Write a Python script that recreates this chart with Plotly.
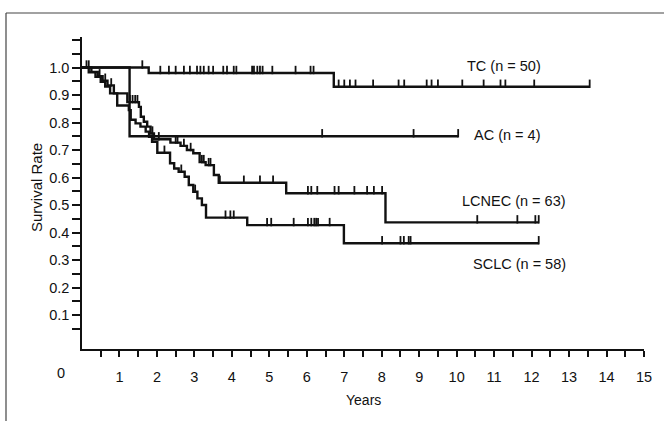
import bisect
import plotly.graph_objects as go

# ---------------- data ----------------
groups = ["TC (n = 50)", "AC (n = 4)", "LCNEC (n = 63)", "SCLC (n = 58)"]

tc_times = [1.78, 6.72]
tc_surv = [0.98, 0.93]
tc_end = 13.55
tc_cens = [1.61, 2.09, 2.32, 2.50, 2.72, 2.88, 3.07, 3.16, 3.25, 3.38, 3.50, 3.77, 3.87,
           4.05, 4.12, 4.54, 4.59, 4.68, 4.75, 4.82, 5.08, 5.70, 6.10, 6.18,
           6.85, 7.00, 7.15, 7.30, 7.77, 8.45, 8.60, 9.20, 9.33, 9.50, 10.15, 10.72,
           11.17, 11.30, 12.07, 13.55]

ac_times = [1.27]
ac_surv = [0.75]
ac_end = 10.04
ac_cens = [6.41, 8.85, 10.04]

lcnec_times = [0.25, 0.42, 0.55, 0.68, 0.85, 1.21, 1.52, 1.57, 1.65, 1.74, 1.83, 1.92,
               2.36, 2.63, 2.80, 2.97, 3.14, 3.30, 3.52, 3.65, 5.45, 8.10]
lcnec_surv = [0.984, 0.968, 0.952, 0.935, 0.906, 0.874, 0.857, 0.821, 0.803, 0.785, 0.760, 0.739,
              0.727, 0.715, 0.700, 0.688, 0.656, 0.645, 0.609, 0.581, 0.543, 0.437]
lcnec_end = 12.19
lcnec_cens = [0.12, 0.18, 0.47, 0.62, 0.78, 1.28, 1.35, 1.42, 1.48, 1.88, 2.05, 2.50, 2.55,
              2.72, 2.90, 3.20, 3.25, 3.38, 3.43, 3.68, 4.32, 4.75, 5.10, 6.03, 6.12, 6.28,
              6.74, 6.85, 7.27, 7.61, 7.79, 8.01, 10.55, 11.62, 12.10, 12.19]

sclc_times = [0.18, 0.36, 0.50, 0.62, 0.75, 0.94, 1.25, 1.30, 1.43, 1.56, 1.70, 1.79, 1.87,
              2.01, 2.35, 2.46, 2.58, 2.74, 2.85, 2.97, 3.08, 3.20, 3.31, 4.41, 6.99]
sclc_surv = [0.983, 0.966, 0.948, 0.931, 0.906, 0.862, 0.845, 0.810, 0.797, 0.785, 0.767, 0.748, 0.730,
             0.690, 0.652, 0.633, 0.621, 0.603, 0.573, 0.548, 0.524, 0.500, 0.454, 0.427, 0.361]
sclc_end = 12.19
sclc_cens = [2.20, 2.65, 3.02, 3.83, 3.96, 4.05, 4.94, 5.05, 5.65, 6.03, 6.12, 6.20, 6.25,
             6.30, 6.61, 8.01, 8.50, 8.59, 8.72, 8.77, 12.19]

x_tick_labels = [str(i) for i in range(1, 16)]
y_tick_labels = ["0.1", "0.2", "0.3", "0.4", "0.5", "0.6", "0.7", "0.8", "0.9", "1.0"]

# ---------------- layout geometry ----------------
W, H = 664, 421
ML, MR, MT, MB = 82, 20, 37, 72
YR = [-0.0236, 1.111]
FONT = "Liberation Sans, Arial, Helvetica, sans-serif"
FS = 14.5
INK = "#111111"


def surv_at(times, surv, t):
    i = bisect.bisect_right(times, t)
    return 1.0 if i == 0 else surv[i - 1]


fig = go.Figure()
series = [
    (tc_times, tc_surv, tc_end, tc_cens),
    (ac_times, ac_surv, ac_end, ac_cens),
    (lcnec_times, lcnec_surv, lcnec_end, lcnec_cens),
    (sclc_times, sclc_surv, sclc_end, sclc_cens),
]
ppu = (H - MT - MB) / (YR[1] - YR[0])
off = 3.0 / ppu
for name, (tt, ss, te, cc) in zip(groups, series):
    fig.add_trace(go.Scatter(
        x=[0] + tt + [te], y=[1.0] + ss + [ss[-1]],
        mode="lines", line=dict(color=INK, width=2.4, shape="hv"),
        name=name, showlegend=False, hoverinfo="skip"))
    fig.add_trace(go.Scatter(
        x=cc, y=[surv_at(tt, ss, c) + off for c in cc],
        mode="markers",
        marker=dict(symbol="line-ns", size=6, line=dict(color=INK, width=1.8)),
        showlegend=False, hoverinfo="skip"))

# curve labels
label_pos = [(10.21, 1.005), (10.42, 0.755), (10.10, 0.515), (10.37, 0.285)]
for name, (lx, ly) in zip(groups, label_pos):
    fig.add_annotation(x=lx, y=ly, xref="x", yref="y", text=name, showarrow=False,
                       xanchor="left", yanchor="middle",
                       font=dict(family=FONT, size=FS, color=INK))

# origin label "0"
fig.add_annotation(x=0, y=0, xref="x", yref="paper", text="0", showarrow=False,
                   xshift=-21, yshift=-24, xanchor="center", yanchor="middle",
                   font=dict(family=FONT, size=FS, color=INK))
# axis titles
fig.add_annotation(x=0.5, y=0, xref="paper", yref="paper", text="Years", showarrow=False,
                   yshift=-51, xanchor="center", yanchor="middle",
                   font=dict(family=FONT, size=14, color=INK))
fig.add_annotation(x=0, y=0.516, xref="paper", yref="paper", text="Survival Rate",
                   showarrow=False, xshift=-46, textangle=-90,
                   xanchor="center", yanchor="middle",
                   font=dict(family=FONT, size=15, color=INK))

# scan frame (top and left edges)
pw, ph = W - ML - MR, H - MT - MB


def px2paper_x(px):
    return (px - ML) / pw


def py2paper_y(py):
    return (H - MB - py) / ph


fx, fy = 6, 13
fig.add_shape(type="line", xref="paper", yref="paper",
              x0=px2paper_x(fx), x1=px2paper_x(fx), y0=py2paper_y(fy), y1=py2paper_y(H + 5),
              line=dict(color="#444444", width=1.2))
fig.add_shape(type="line", xref="paper", yref="paper",
              x0=px2paper_x(fx), x1=px2paper_x(W + 5), y0=py2paper_y(fy), y1=py2paper_y(fy),
              line=dict(color="#444444", width=1.2))

fig.update_layout(
    width=W, height=H,
    margin=dict(l=ML, r=MR, t=MT, b=MB, pad=0),
    paper_bgcolor="white", plot_bgcolor="white",
    font=dict(family=FONT, size=FS, color=INK),
    showlegend=False,
)
fig.update_xaxes(
    range=[0, 15], showgrid=False, zeroline=False,
    showline=True, linecolor=INK, linewidth=1.5,
    tickvals=list(range(1, 16)), ticktext=x_tick_labels,
    ticks="outside", ticklen=6, tickwidth=1.5, tickcolor=INK,
    ticklabelstandoff=8,
    minor=dict(tickvals=[i + 0.5 for i in range(0, 15)], ticks="outside",
               ticklen=6, tickwidth=1.5, tickcolor=INK, showgrid=False),
)
fig.update_yaxes(
    range=YR, showgrid=False, zeroline=False,
    showline=True, linecolor=INK, linewidth=1.5,
    tickvals=[i / 10 for i in range(1, 11)], ticktext=y_tick_labels,
    ticks="outside", ticklen=8, tickwidth=1.5, tickcolor=INK,
    minor=dict(tickvals=[0.05 + i / 10 for i in range(0, 11)] + [1.1], ticks="outside",
               ticklen=8, tickwidth=1.5, tickcolor=INK, showgrid=False),
)

fig.write_html("out.html", config={"displayModeBar": False},
               post_script="document.body.style.margin='0px';document.body.style.padding='0px';document.body.style.overflow='hidden';")
